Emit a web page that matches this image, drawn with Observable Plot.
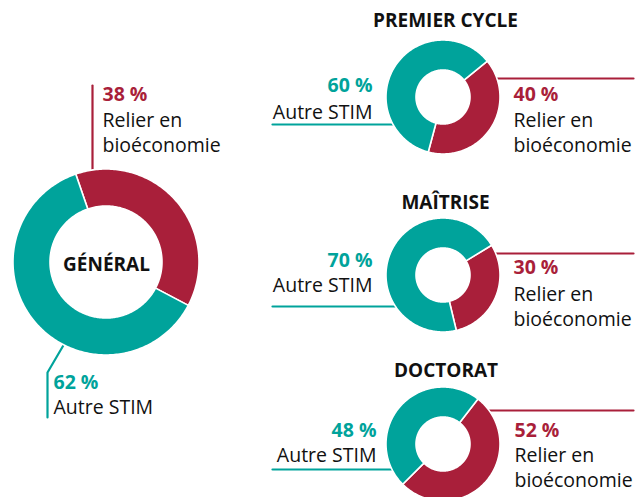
<!DOCTYPE html>
<html>
<head>
<meta charset="utf-8">
<script src="https://cdn.jsdelivr.net/npm/d3@7"></script>
<script src="https://cdn.jsdelivr.net/npm/@observablehq/plot@0.6"></script>
<style>
  html, body { margin: 0; padding: 0; background: #ffffff; }
  #chart svg { display: block; }
</style>
</head>
<body>
<div id="chart"></div>
<script>
// ---------- DATA ----------
const levels = ["GÉNÉRAL", "PREMIER CYCLE", "MAÎTRISE", "DOCTORAT"];
const categories = ["Relier en bioéconomie", "Autre STIM"];
const bioShare = [38, 40, 30, 52];      // % Relier en bioéconomie
const autreShare = [62, 60, 70, 48];    // % Autre STIM
const bioLabelLines = ["Relier en", "bioéconomie"];
const autreLabelLines = ["Autre STIM"];

// ---------- LAYOUT (positions / styles) ----------
const W = 643, H = 497;
const RED = "#a91f3a", TEAL = "#00a39b";
const FS = 19.5;
const layout = [
  { cx: 106, cy: 262, R: 93, r: 56, start: -19,
    title: { x: 106, y: 270 },
    bio: { x: 102, anchor: "start", y: [100, 126.7, 151.7] },
    autre: { x: 53, anchor: "start", y: [388.3, 413.3] },
    bioLeader: [[92, 85], [92, 178]],
    autreLeader: [[64, 343], [47, 372], [47, 417]] },
  { cx: 443, cy: 97, R: 57, r: 27, start: 51,
    title: { x: 445, y: 26 },
    bio: { x: 513, anchor: "start", y: [100, 126.7, 151.7] },
    autre: { x: 372, anchor: "end", y: [91.7, 118.3] },
    bioLeader: [[480, 78], [633, 78]],
    autreLeader: [[272, 124], [400, 124]] },
  { cx: 443, cy: 275, R: 57, r: 27, start: 58.5,
    title: { x: 445, y: 208.3 },
    bio: { x: 513, anchor: "start", y: [273.3, 300, 325] },
    autre: { x: 372, anchor: "end", y: [266.7, 291.7] },
    bioLeader: [[480, 253], [633, 253]],
    autreLeader: [[272, 306], [400, 306]] },
  { cx: 443, cy: 444, R: 57, r: 27, start: 37.8,
    title: { x: 445.5, y: 376 },
    bio: { x: 514, anchor: "start", y: [436.7, 461.7, 486.7] },
    autre: { x: 376, anchor: "end", y: [436.7, 461.7] },
    bioLeader: [[470, 410], [633, 410]],
    autreLeader: [[272, 469], [400, 469]] }
];

// ---------- DERIVED TABLES ----------
const rad = Math.PI / 180;
const arcPoints = [];
levels.forEach((lvl, i) => {
  const L = layout[i];
  const shares = [bioShare[i], autreShare[i]];
  let a = L.start;
  shares.forEach((v, k) => {
    const a0 = a, a1 = a + v * 3.6;
    const n = Math.max(2, Math.ceil((a1 - a0) / 1));
    for (let j = 0; j <= n; ++j) {
      const t = (a0 + (a1 - a0) * j / n) * rad;
      arcPoints.push({
        key: lvl + "|" + categories[k],
        category: categories[k],
        x1: L.cx + L.R * Math.sin(t), y1: L.cy - L.R * Math.cos(t),
        x2: L.cx + L.r * Math.sin(t), y2: L.cy - L.r * Math.cos(t)
      });
    }
    a = a1;
  });
});

const leaders = [];
levels.forEach((lvl, i) => {
  const L = layout[i];
  L.bioLeader.forEach(([x, y]) => leaders.push({ key: lvl + "|bio", category: categories[0], x, y }));
  L.autreLeader.forEach(([x, y]) => leaders.push({ key: lvl + "|autre", category: categories[1], x, y }));
});

const pctLabels = [], lineLabels = [], titles = [];
levels.forEach((lvl, i) => {
  const L = layout[i];
  titles.push({ text: lvl, x: L.title.x, y: L.title.y });
  pctLabels.push({ text: `${bioShare[i]} %`, category: categories[0], x: L.bio.x, y: L.bio.y[0], anchor: L.bio.anchor });
  bioLabelLines.forEach((t, j) => lineLabels.push({ text: t, x: L.bio.x, y: L.bio.y[j + 1], anchor: L.bio.anchor }));
  pctLabels.push({ text: `${autreShare[i]} %`, category: categories[1], x: L.autre.x, y: L.autre.y[0], anchor: L.autre.anchor });
  autreLabelLines.forEach((t, j) => lineLabels.push({ text: t, x: L.autre.x, y: L.autre.y[j + 1], anchor: L.autre.anchor }));
});

const startAnchored = d => d.anchor === "start";

const chart = Plot.plot({
  width: W, height: H,
  margin: 0,
  style: { fontFamily: "'Open Sans', sans-serif", fontSize: FS + "px", background: "#ffffff", color: "#111" },
  x: { domain: [0, W], range: [0, W], axis: null },
  y: { domain: [0, H], range: [0, H], axis: null },
  color: { domain: categories, range: [RED, TEAL] },
  marks: [
    Plot.line(leaders, { x: "x", y: "y", z: "key", stroke: "category", strokeWidth: 2.2, curve: "linear" }),
    Plot.area(arcPoints, { x1: "x1", y1: "y1", x2: "x2", y2: "y2", z: "key", fill: "category",
      stroke: "white", strokeWidth: 1.6, curve: "linear" }),
    Plot.text(titles, { x: "x", y: "y", text: "text", textAnchor: "middle", lineAnchor: "bottom",
      fontWeight: "bold", fontSize: 19, fill: "#111" }),
    Plot.text(pctLabels.filter(startAnchored), { x: "x", y: "y", text: "text", textAnchor: "start", lineAnchor: "bottom",
      fontWeight: "bold", fontSize: FS, fill: "category" }),
    Plot.text(pctLabels.filter(d => !startAnchored(d)), { x: "x", y: "y", text: "text", textAnchor: "end", lineAnchor: "bottom",
      fontWeight: "bold", fontSize: FS, fill: "category" }),
    Plot.text(lineLabels.filter(startAnchored), { x: "x", y: "y", text: "text", textAnchor: "start", lineAnchor: "bottom",
      fontSize: FS, fill: "#111" }),
    Plot.text(lineLabels.filter(d => !startAnchored(d)), { x: "x", y: "y", text: "text", textAnchor: "end", lineAnchor: "bottom",
      fontSize: FS, fill: "#111" })
  ]
});
document.getElementById("chart").appendChild(chart);
</script>
</body>
</html>
